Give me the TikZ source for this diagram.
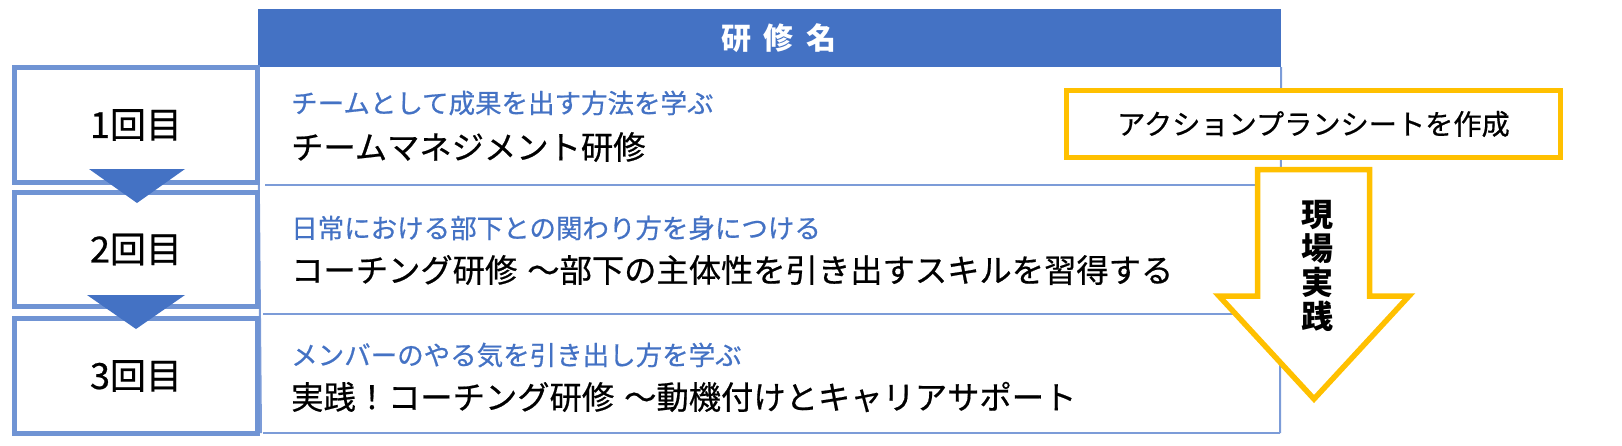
\documentclass[tikz,border=0pt]{standalone}
\usepackage{fontspec}
\setmainfont{Noto Sans CJK JP}
\newfontfamily\medfont{Noto Sans CJK JP}[FakeBold=0.6]
\usepackage{tikz}
\usepackage{xcolor}
\definecolor{hdrblue}{HTML}{4472C4}
\definecolor{boxblue}{HTML}{7094D4}
\definecolor{lineblue}{HTML}{7C9CD8}
\definecolor{planorange}{HTML}{FFC000}
\tikzset{
  stagebox/.style={draw=boxblue, line width=5pt, fill=white, minimum width=243pt, inner sep=0pt, font=\medfont\fontsize{36}{40}\selectfont},
  rowline/.style={draw=lineblue, line width=2pt},
  subtitle/.style={anchor=west, inner sep=0pt, text=hdrblue, font=\medfont\fontsize{26.5}{30}\selectfont},
  maintitle/.style={anchor=west, inner sep=0pt, text=black, font=\medfont\fontsize{32.3}{36}\selectfont},
  orangeline/.style={draw=planorange, line width=5.5pt, fill=white},
}

\begin{document}
\begin{tikzpicture}[x=1pt, y=-1pt]
\useasboundingbox (0,0) rectangle (1622,445);
\node[fill=hdrblue, minimum width=1023pt, minimum height=58pt, inner sep=0pt] (hdr) at (769.5,38) {};
\node[text=white, font=\bfseries\fontsize{30}{34}\selectfont, inner sep=0pt] (hdrtext) at (779,38) {研\hspace{13pt}修\hspace{13pt}名};
\draw[rowline] (hdr.south west) -- (261,433);
\draw[rowline] (hdr.south east) -- (1280,433);
\draw[rowline] (265,185) -- (1280,185);
\draw[rowline] (263,314) -- (1280,314);
\draw[rowline] (263,433) -- (1280,433);
\node[stagebox, minimum height=115pt] (s1) at (136,125) {1回目};
\node[stagebox, minimum height=114pt] (s2) at (136,249.5) {2回目};
\node[stagebox, minimum height=115pt] (s3) at (136,376) {3回目};
\fill[hdrblue] (89,169) -- (185,169) -- (137,203) -- cycle;
\fill[hdrblue] (87,295) -- (185,295) -- (136,329) -- cycle;
\node[subtitle] (sub1) at (291,103) {チームとして成果を出す方法を学ぶ};
\node[maintitle] (main1) at (291,147) {チームマネジメント研修};
\node[subtitle] (sub2) at (291,228) {日常における部下との関わり方を身につける};
\node[maintitle] (main2) at (291,270) {コーチング研修\hspace{10pt}～部下の主体性を引き出すスキルを習得する};
\node[subtitle] (sub3) at (291,355) {メンバーのやる気を引き出し方を学ぶ};
\node[maintitle] (main3) at (291,397) {実践！コーチング研修\hspace{10pt}～動機付けとキャリアサポート};
\node[orangeline, minimum width=494pt, minimum height=67pt, inner sep=0pt, font=\medfont\fontsize{28.2}{32}\selectfont] (plan) at (1313.5,124) {アクションプランシートを作成};
\draw[orangeline, line join=miter] (1257.5,169.5) -- (1257.5,296) -- (1219,296) -- (1314,399) -- (1409,296) -- (1369.5,296) -- (1369.5,169.5) -- cycle;
\node[align=center, inner sep=0pt, font=\bfseries\fontsize{32}{34}\selectfont] (field) at (1317,266) {現\\場\\実\\践};
\end{tikzpicture}
\end{document}
